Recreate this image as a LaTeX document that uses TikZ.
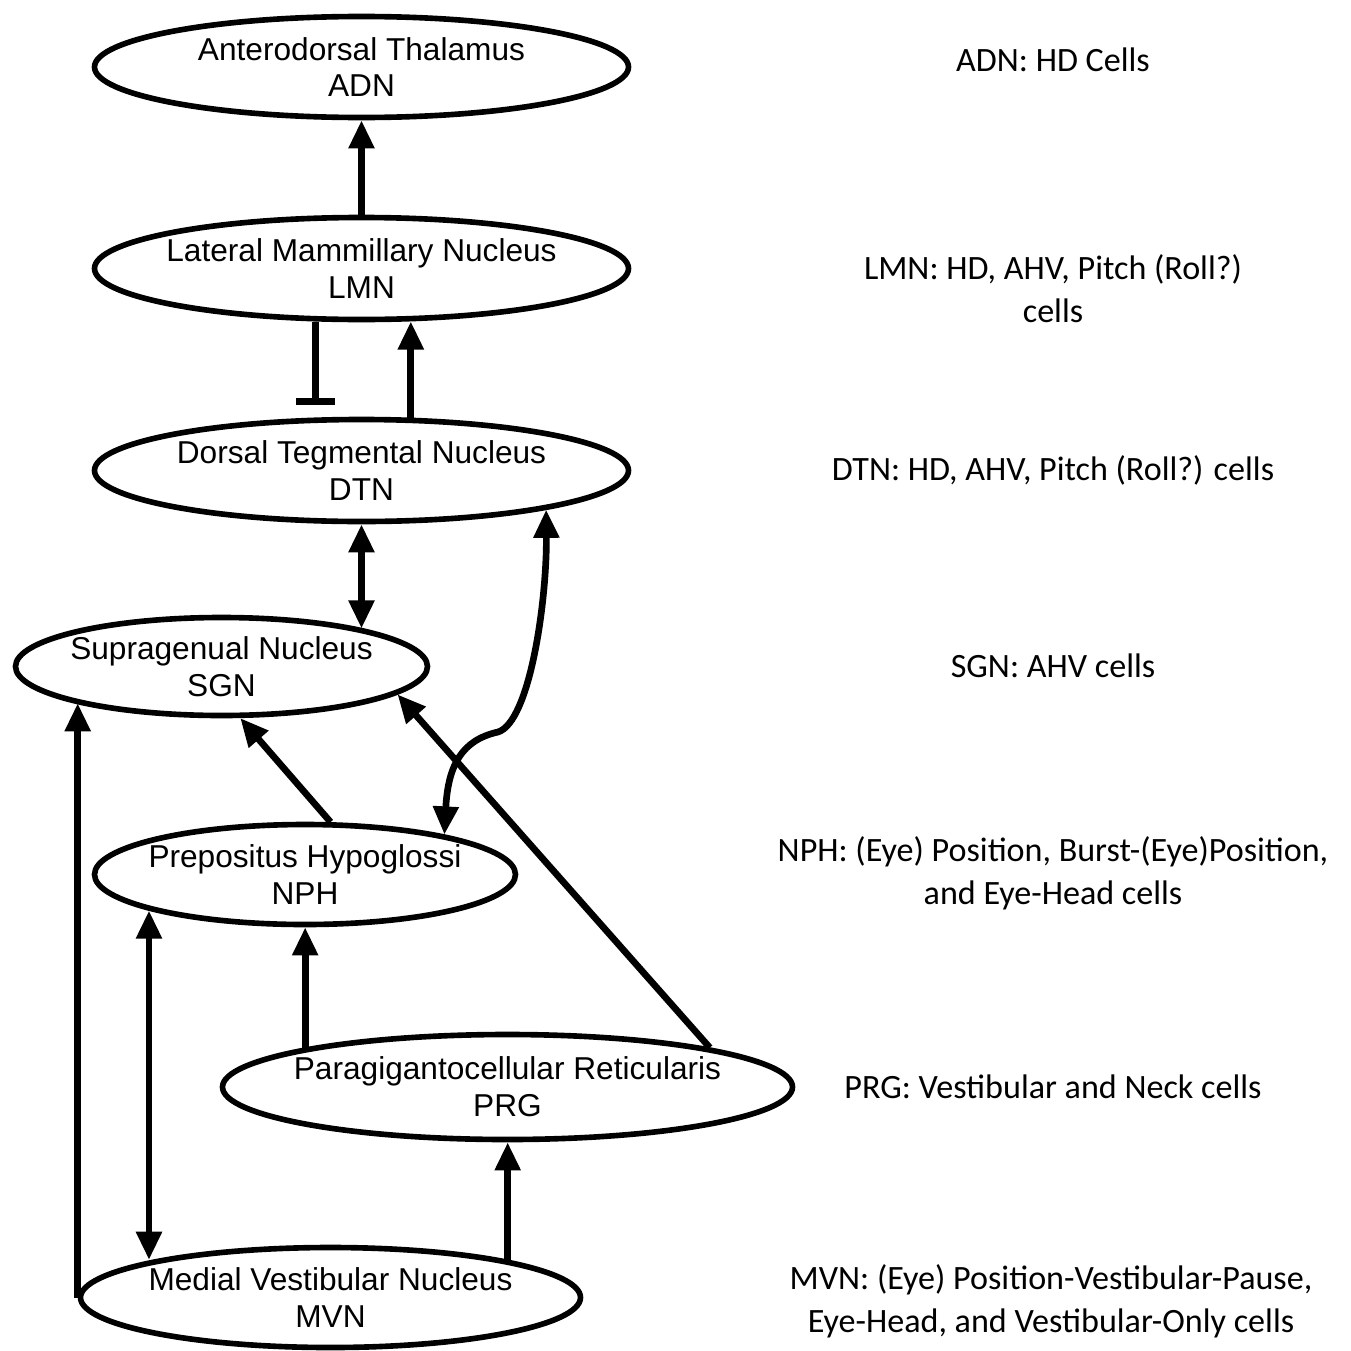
\documentclass[tikz,border=0pt]{standalone}
\usepackage{fontspec}
\setmainfont{Liberation Sans}
\newfontfamily\notefont{Carlito}
\usetikzlibrary{arrows.meta,shapes.geometric}

\tikzset{
  nucleus/.style={draw,ellipse,line width=1.6pt,inner xsep=-0.5cm,inner ysep=0pt,
    align=center,font=\fontsize{9}{10.5}\selectfont},
  cellnote/.style={align=center,font=\notefont\fontsize{9.7}{12.2}\selectfont},
  link/.style={line width=1.9pt,-{Triangle[width=7pt,length=8pt]}},
  dlink/.style={line width=1.9pt,{Triangle[width=7pt,length=8pt]}-{Triangle[width=7pt,length=8pt]}},
  inhib/.style={line width=1.9pt,-{Bar[width=11pt,line width=2.2pt]},shorten >=0.12cm}
}

\begin{document}
\begin{tikzpicture}
\useasboundingbox (0,0) rectangle (13.5,-13.51);

% nuclei
\node[nucleus,minimum width=5.34cm,minimum height=1.01cm] (adn) at (3.615,-0.67)
  {Anterodorsal Thalamus\\ADN};
\node[nucleus,minimum width=5.34cm,minimum height=1.02cm] (lmn) at (3.615,-2.685)
  {Lateral Mammillary Nucleus\\LMN};
\node[nucleus,minimum width=5.34cm,minimum height=1.02cm] (dtn) at (3.615,-4.705)
  {Dorsal Tegmental Nucleus\\DTN};
\node[nucleus,minimum width=4.12cm,minimum height=0.98cm] (sgn) at (2.215,-6.665)
  {Supragenual Nucleus\\SGN};
\node[nucleus,minimum width=4.21cm,minimum height=1.00cm] (nph) at (3.05,-8.745)
  {Prepositus Hypoglossi\\NPH};
\node[nucleus,minimum width=5.70cm,minimum height=1.05cm] (prg) at (5.075,-10.87)
  {Paragigantocellular Reticularis\\PRG};
\node[nucleus,minimum width=5.00cm,minimum height=1.00cm] (mvn) at (3.305,-12.975)
  {Medial Vestibular Nucleus\\MVN};

% cell types
\node[cellnote] (adnnote) at (10.53,-0.60) {ADN: HD Cells};
\node[cellnote] (lmnnote) at (10.53,-2.89) {LMN: HD, AHV, Pitch (Roll?)\\cells};
\node[cellnote] (dtnnote) at (10.53,-4.70) {DTN: HD, AHV, Pitch (Roll?) cells};
\node[cellnote] (sgnnote) at (10.53,-6.66) {SGN: AHV cells};
\node[cellnote] (nphnote) at (10.53,-8.735) {NPH: (Eye) Position, Burst-(Eye)Position,\\and Eye-Head cells};
\node[cellnote] (prgnote) at (10.53,-10.87) {PRG: Vestibular and Neck cells};
\node[cellnote] (mvnnote) at (10.51,-13.01) {MVN: (Eye) Position-Vestibular-Pause,\\Eye-Head, and Vestibular-Only cells};

% upper chain
\draw[link] (lmn.north) -- (adn.south);
\draw[inhib] (lmn.229) -- (dtn.131);
\draw[link] (dtn.47) -- (lmn.313);
\draw[dlink] (dtn.south) -- (dtn.south |- sgn.15);

% dtn <-> nph
\coordinate (kink) at (4.98,-7.32);
\draw[dlink] (nph.16) .. controls (4.48,-7.65) and (4.62,-7.40) .. (kink)
  .. controls (5.30,-7.22) and (5.47,-6.0) .. (dtn.348);

% into sgn
\draw[link] (nph.64) -- (sgn.290);
\draw[link] (prg.11) -- (sgn.351);
\draw[link] (mvn.west) -- (mvn.west |- sgn.194);

% lower part
\draw[dlink] (nph.193) -- (nph.193 |- mvn.168);
\draw[link] (prg.169) -- (prg.169 |- nph.south);
\draw[link] (mvn.12) -- (mvn.12 |- prg.south);
\end{tikzpicture}
\end{document}
